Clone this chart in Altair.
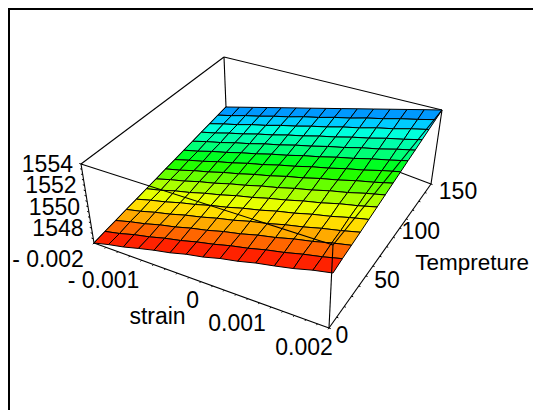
import numpy as np
import pandas as pd
import altair as alt

STRAIN_MIN, STRAIN_MAX = -0.002, 0.002
TEMP_MIN, TEMP_MAX = 0.0, 150.0
WAVE_MIN, WAVE_MAX = 1546.6, 1554.0

strain = [round(-0.002 + i * 0.004 / 14, 6) for i in range(15)]
temperature = [round(j * 150 / 14, 3) for j in range(15)]

wavelength = [
    [1546.60,1546.97,1547.27,1547.66,1548.02,1548.32,1548.72,1549.01,1549.42,1549.72,1550.11,1550.41,1550.74,1551.16,1551.48],
    [1546.62,1546.94,1547.35,1547.67,1548.07,1548.39,1548.79,1549.12,1549.52,1549.84,1550.24,1550.56,1550.96,1551.29,1551.69],
    [1546.60,1547.00,1547.33,1547.75,1548.08,1548.50,1548.83,1549.25,1549.58,1550.00,1550.33,1550.75,1551.08,1551.50,1551.85],
    [1546.63,1546.97,1547.39,1547.74,1548.17,1548.52,1548.94,1549.29,1549.72,1550.06,1550.49,1550.84,1551.26,1551.61,1552.02],
    [1546.60,1547.02,1547.38,1547.82,1548.18,1548.62,1548.98,1549.42,1549.78,1550.22,1550.58,1551.02,1551.38,1551.82,1552.20],
    [1546.62,1546.99,1547.45,1547.82,1548.27,1548.65,1549.10,1549.47,1549.92,1550.30,1550.75,1551.12,1551.58,1551.95,1552.38],
    [1546.60,1547.05,1547.43,1547.90,1548.28,1548.75,1549.14,1549.60,1549.99,1550.45,1550.84,1551.31,1551.69,1552.16,1552.56],
    [1546.63,1547.02,1547.50,1547.90,1548.38,1548.78,1549.25,1549.65,1550.13,1550.53,1551.01,1551.41,1551.89,1552.29,1552.75],
    [1546.60,1547.07,1547.48,1547.98,1548.39,1548.88,1549.29,1549.78,1550.20,1550.69,1551.10,1551.59,1552.00,1552.50,1552.93],
    [1546.62,1547.04,1547.55,1547.98,1548.48,1548.91,1549.41,1549.84,1550.34,1550.77,1551.27,1551.70,1552.20,1552.63,1553.11],
    [1546.60,1547.10,1547.53,1548.05,1548.49,1549.01,1549.44,1549.96,1550.40,1550.91,1551.35,1551.87,1552.30,1552.82,1553.28],
    [1546.63,1547.07,1547.60,1548.05,1548.58,1549.03,1549.56,1550.01,1550.54,1550.99,1551.52,1551.97,1552.50,1552.95,1553.46],
    [1546.60,1547.12,1547.58,1548.13,1548.59,1549.14,1549.60,1550.14,1550.61,1551.15,1551.61,1552.16,1552.62,1553.16,1553.64],
    [1546.62,1547.10,1547.65,1548.13,1548.68,1549.16,1549.72,1550.19,1550.75,1551.22,1551.78,1552.26,1552.81,1553.29,1553.82],
    [1546.60,1547.13,1547.66,1548.19,1548.72,1549.25,1549.77,1550.30,1550.83,1551.36,1551.89,1552.42,1552.95,1553.48,1554.00],
]

band_colors = ["#ff2200", "#ff6600", "#ffaa00", "#ffdd00", "#e6ff00", "#aaff00", "#66ff00",
               "#22ff00", "#00ff22", "#00ff77", "#00ffaa", "#00ffdd", "#00ccff", "#0099ff"]

strain_ticks = [-0.002, -0.001, 0, 0.001, 0.002]
strain_labels = ["- 0.002", "- 0.001", "0", "0.001", "0.002"]
temp_ticks = [0, 50, 100, 150]
temp_labels = ["0", "50", "100", "150"]
wave_ticks = [1548, 1550, 1552, 1554]
wave_labels = ["1548", "1550", "1552", "1554"]


def homography(pts):
    rows = []
    for (a_, b_), (px, py) in zip([(0, 0), (1, 0), (1, 1), (0, 1)], pts):
        rows.append([a_, b_, 1, 0, 0, 0, -px * a_, -px * b_, -px])
        rows.append([0, 0, 0, a_, b_, 1, -py * a_, -py * b_, -py])
    return np.linalg.svd(np.array(rows, float))[2][-1].reshape(3, 3)


def apply_h(h, u, v):
    q = h @ np.array([u, v, 1.0])
    return np.array([q[0] / q[2], q[1] / q[2]])


# view: the floor and ceiling of the plot cube, and the sheet the surface lies in
_FLOOR = homography([(94, 243), (329, 328), (431, 184), (226, 107)])
_CEIL = homography([(81, 164), (333, 245), (442, 110), (224, 57)])
_SHEET = homography([(94, 243), (333, 273), (442, 110), (226, 107)])


def norm(s, t, z):
    return ((s - STRAIN_MIN) / (STRAIN_MAX - STRAIN_MIN),
            (t - TEMP_MIN) / (TEMP_MAX - TEMP_MIN),
            (z - WAVE_MIN) / (WAVE_MAX - WAVE_MIN))


def project(s, t, z):
    u, v, w = norm(s, t, z)
    p = apply_h(_FLOOR, u, v) * (1 - w) + apply_h(_CEIL, u, v) * w
    return float(p[0]), float(p[1])


def project_surface(s, t, z):
    u, v, w = norm(s, t, z)
    w_sheet = u * (0.66 + 0.34 * v)
    p = apply_h(_SHEET, u, v) + (apply_h(_CEIL, u, v) - apply_h(_FLOOR, u, v)) * (w - w_sheet)
    return float(p[0]), float(p[1])


FONT = "Liberation Sans"
FS = 23
X = alt.X("x:Q", axis=None, scale=alt.Scale(domain=[8, 533], range=[0, 525]))
Y = alt.Y("y:Q", axis=None, scale=alt.Scale(domain=[8, 410], range=[0, 402]))

cells = []
for j in range(13, -1, -1):
    for i in range(14):
        cid = f"c{j:02d}_{i:02d}"
        for n, (ii, jj) in enumerate([(i, j), (i + 1, j), (i + 1, j + 1), (i, j + 1)]):
            px, py = project_surface(strain[ii], temperature[jj], wavelength[jj][ii])
            cells.append({"x": px, "y": py, "cell": cid, "n": n, "fillc": band_colors[j]})
cells = pd.DataFrame(cells)

surface = alt.Chart(cells).mark_line(
    interpolate="linear-closed", stroke="black", strokeWidth=1, filled=True
).encode(x=X, y=Y, detail="cell:N", order="n:Q", fill=alt.Fill("fillc:N", scale=None))


def seg_frame(segments):
    out = []
    for k, (p, q) in enumerate(segments):
        for n, e_ in enumerate((p, q)):
            px, py = project(*e_)
            out.append({"x": px, "y": py, "seg": k, "n": n})
    return pd.DataFrame(out)


a, b = STRAIN_MIN, STRAIN_MAX
c, d = TEMP_MIN, TEMP_MAX
e, f = WAVE_MIN, WAVE_MAX
back_edges = [
    ((a, d, f), (b, d, f)), ((a, d, f), (a, c, f)), ((a, d, f), (a, d, e)),
    ((a, d, e), (a, c, e)), ((a, d, e), (b, d, e)), ((b, d, e), (b, d, f)),
]
front_edges = [
    ((a, c, e), (b, c, e)), ((b, c, e), (b, d, e)), ((a, c, e), (a, c, f)),
    ((a, c, f), (b, c, f)), ((b, c, f), (b, d, f)), ((b, c, e), (b, c, f)),
]
tick_segments = []
for s in np.arange(-0.002, 0.00201, 0.0002):
    tick_segments.append(((s, c, e), (s, c - 1.2, e)))
for t in np.arange(0, 150.1, 10):
    tick_segments.append(((b, t, e), (b + 0.00003, t, e)))
for z in np.arange(1547, 1554.01, 0.5):
    tick_segments.append(((a, c, z), (a - 0.00003, c, z)))

line_kw = dict(stroke="black", strokeWidth=1.1)
back = alt.Chart(seg_frame(back_edges)).mark_line(**line_kw).encode(x=X, y=Y, detail="seg:N", order="n:Q")
front = alt.Chart(seg_frame(front_edges)).mark_line(**line_kw).encode(x=X, y=Y, detail="seg:N", order="n:Q")
ticks = alt.Chart(seg_frame(tick_segments)).mark_line(stroke="black", strokeWidth=1).encode(
    x=X, y=Y, detail="seg:N", order="n:Q")

frame_df = pd.DataFrame([
    {"x": 9, "y": 410, "n": 0}, {"x": 9, "y": 9, "n": 1}, {"x": 533, "y": 9, "n": 2},
])
frame = alt.Chart(frame_df).mark_line(stroke="black", strokeWidth=2).encode(x=X, y=Y, order="n:Q")

strain_off = [(-46, 17), (-50, 16.5), (-20, 15), (-34, 16.5), (-25, 20)]
temp_off = [(13, 8), (21, 5), (21, 4), (27, 8)]
texts = []
for v, lab, (dx, dy) in zip(strain_ticks, strain_labels, strain_off):
    px, py = project(v, c, e)
    texts.append({"x": px + dx, "y": py + dy, "label": lab})
for v, lab, (dx, dy) in zip(temp_ticks, temp_labels, temp_off):
    px, py = project(b, v, e)
    texts.append({"x": px + dx, "y": py + dy, "label": lab})
px, py = project(0, c, e)
texts.append({"x": px - 55, "y": py + 31.5, "label": "strain"})
center_text = alt.Chart(pd.DataFrame(texts)).mark_text(
    font=FONT, fontSize=FS, color="black", align="center", baseline="middle"
).encode(x=X, y=Y, text="label:N")

px, py = project(b, 75, e)
temp_title = alt.Chart(pd.DataFrame([{"x": px + 89, "y": py + 12, "label": "Tempreture"}])).mark_text(
    font=FONT, fontSize=22.5, color="black", align="center", baseline="middle"
).encode(x=X, y=Y, text="label:N")

wtexts = []
for v, lab in zip(wave_ticks, wave_labels):
    px, py = project(a, c, v)
    wtexts.append({"x": px - 8, "y": py + 1, "label": lab})
right_text = alt.Chart(pd.DataFrame(wtexts)).mark_text(
    font=FONT, fontSize=FS, color="black", align="right", baseline="middle"
).encode(x=X, y=Y, text="label:N")

chart = alt.layer(frame, back, surface, front, ticks, center_text, temp_title, right_text).properties(
    width=525, height=402, padding=0, background="white",
    autosize=alt.AutoSizeParams(type="none"),
).configure_view(stroke=None)

chart.save("out.html", embed_options={"renderer": "svg", "actions": False})
